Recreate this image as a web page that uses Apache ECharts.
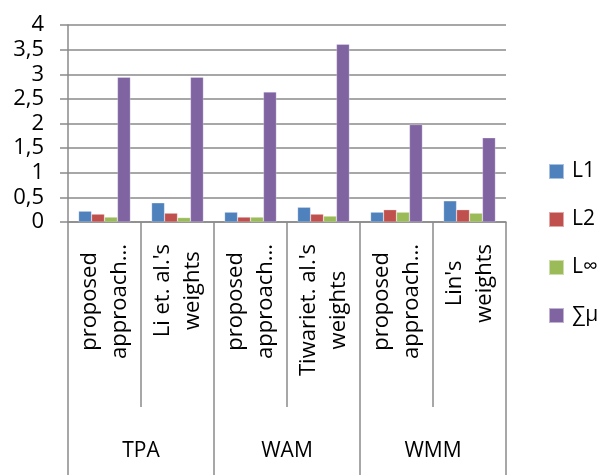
<!DOCTYPE html>
<html>
<head>
<meta charset="utf-8">
<script src="https://cdn.jsdelivr.net/npm/echarts@6/dist/echarts.min.js"></script>
<style>
  html, body { margin: 0; padding: 0; background: #fff; }
  #chart { width: 603px; height: 475px; }
</style>
</head>
<body>
<div id="chart"></div>
<script>
// sub-categories (rotated labels) and their groups
const categories = ['proposed\napproach...', "Li et. al.'s\nweights", 'proposed\napproach...', "Tiwariet. al.'s\nweights", 'proposed\napproach...', "Lin's\nweights"];
const groups = ['TPA', 'WAM', 'WMM'];

// values
const l1 = [0.22, 0.39, 0.20, 0.30, 0.20, 0.43];
const l2 = [0.16, 0.18, 0.10, 0.16, 0.25, 0.25];
const lInf = [0.10, 0.09, 0.10, 0.12, 0.20, 0.18];
const sumMu = [2.94, 2.94, 2.64, 3.61, 1.98, 1.71];

const seriesNames = ['L1', 'L2', 'L\u221e', '\u2211\u03bc'];
const colors = ['#4F81BD', '#C0504D', '#9BBB59', '#8064A2'];
const yTicks = [0, 0.5, 1, 1.5, 2, 2.5, 3, 3.5, 4];

const font = 'Open Sans';
const gridColor = '#8a8a8a';

var myChart = echarts.init(document.getElementById('chart'));

const option = {
  animation: false,
  color: colors,
  grid: { left: 68, right: 97, top: 25, bottom: 253 },
  legend: {
    data: seriesNames,
    orient: 'vertical',
    left: 548,
    top: 161,
    padding: 0,
    icon: 'rect',
    itemWidth: 15,
    itemHeight: 15,
    itemGap: 27,
    textStyle: { fontFamily: font, fontSize: 21, color: '#000', padding: [0, 0, 0, 3] }
  },
  xAxis: [
    {
      type: 'category',
      data: categories,
      position: 'bottom',
      axisLine: { show: true, lineStyle: { color: gridColor, width: 1.5 } },
      axisTick: { show: true, length: 185, interval: 0, lineStyle: { color: gridColor, width: 1.5 } },
      axisLabel: {
        interval: 0,
        rotate: 90,
        margin: 22,
        color: '#000',
        formatter: v => v.split('\n').map(s => '{c|' + s + '}').join('\n'),
        rich: {
          c: { align: 'center', fontFamily: font, fontSize: 22, lineHeight: 30, color: '#000' }
        }
      }
    },
    {
      type: 'category',
      data: groups,
      position: 'bottom',
      axisLine: { show: false },
      axisTick: { show: true, length: 256, interval: 0, lineStyle: { color: gridColor, width: 1.5 } },
      axisLabel: {
        interval: 0,
        margin: 219,
        fontFamily: font,
        fontSize: 21,
        color: '#000'
      }
    }
  ],
  yAxis: {
    type: 'value',
    min: yTicks[0],
    max: yTicks[yTicks.length - 1],
    interval: 0.5,
    axisLine: { show: true, lineStyle: { color: gridColor, width: 1.5 } },
    axisTick: { show: true, length: 8, lineStyle: { color: gridColor, width: 1.5 } },
    splitLine: { lineStyle: { color: gridColor, width: 1.5 } },
    axisLabel: {
      margin: 24,
      fontFamily: font,
      fontSize: 22,
      color: '#000',
      formatter: v => String(v).replace('.', ',')
    }
  },
  series: [l1, l2, lInf, sumMu].map((d, i) => ({
    name: seriesNames[i],
    type: 'bar',
    data: d,
    barGap: '0%',
    barCategoryGap: '29%',
    itemStyle: { borderColor: 'rgba(255,255,255,0.5)', borderWidth: 0.5 }
  }))
};

myChart.setOption(option);
</script>
</body>
</html>
